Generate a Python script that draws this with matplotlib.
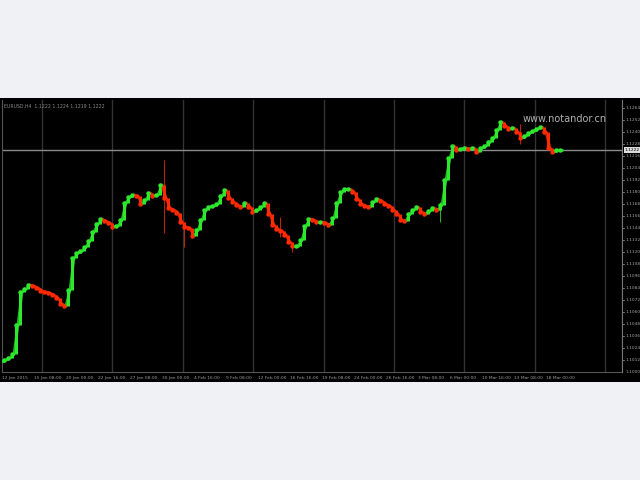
import matplotlib
matplotlib.use("Agg")
import matplotlib.pyplot as plt
import numpy as np

# closing prices, one per bar (H4 bars)
closes = [1.1012, 1.1014, 1.1018, 1.1047, 1.1080, 1.1083, 1.1087, 1.1086, 1.1084, 1.1081,
          1.1080, 1.1079, 1.1077, 1.1074, 1.1068, 1.1066, 1.1082, 1.1114, 1.1119, 1.1121,
          1.1125, 1.1131, 1.1140, 1.1148, 1.1153, 1.1151, 1.1149, 1.1145, 1.1146, 1.1152,
          1.1169, 1.1175, 1.1177, 1.1176, 1.1168, 1.1172, 1.1179, 1.1176, 1.1177, 1.1187,
          1.1174, 1.1164, 1.1162, 1.1159, 1.1150, 1.1145, 1.1144, 1.1136, 1.1142, 1.1152,
          1.1162, 1.1165, 1.1166, 1.1168, 1.1176, 1.1182, 1.1174, 1.1170, 1.1167, 1.1165,
          1.1169, 1.1165, 1.1160, 1.1162, 1.1165, 1.1169, 1.1158, 1.1147, 1.1143, 1.1141,
          1.1137, 1.1130, 1.1126, 1.1126, 1.1132, 1.1146, 1.1153, 1.1152, 1.1150, 1.1150,
          1.1149, 1.1147, 1.1154, 1.1169, 1.1180, 1.1183, 1.1183, 1.1180, 1.1173, 1.1168,
          1.1166, 1.1165, 1.1170, 1.1173, 1.1171, 1.1168, 1.1166, 1.1162, 1.1158, 1.1152,
          1.1151, 1.1158, 1.1162, 1.1165, 1.1160, 1.1158, 1.1161, 1.1164, 1.1162, 1.1167,
          1.1192, 1.1214, 1.1226, 1.1222, 1.1223, 1.1224, 1.1223, 1.1224, 1.1220, 1.1224,
          1.1226, 1.1230, 1.1234, 1.1242, 1.1250, 1.1246, 1.1243, 1.1244, 1.1240, 1.1234,
          1.1236, 1.1239, 1.1241, 1.1243, 1.1245, 1.1240, 1.1224, 1.1220, 1.1222, 1.1222]
first_open = 1.1010

# a few long shadows that stick out: bar index, low, high
wicks = [(40, 1.1139, 1.1212), (45, 1.1125, 1.1150), (69, 1.1135, 1.1155),
         (72, 1.1120, 1.1130), (109, 1.1150, 1.1170), (129, 1.1228, 1.1248)]

price_ticks = [1.1000 + 0.0012 * k for k in range(23)]
date_labels = ["12 Jan 2015", "15 Jan 08:00", "20 Jan 00:00", "22 Jan 16:00", "27 Jan 08:00",
               "30 Jan 00:00", "4 Feb 16:00", "9 Feb 08:00", "12 Feb 00:00", "16 Feb 16:00",
               "19 Feb 08:00", "24 Feb 00:00", "26 Feb 16:00", "3 Mar 08:00", "6 Mar 00:00",
               "10 Mar 16:00", "13 Mar 08:00", "18 Mar 00:00"]
title = "EURUSD,H4  1.1222 1.1224 1.1219 1.1222"
watermark = "www.notandor.cn"

opens = [first_open] + closes[:-1]
n = len(closes)
idx = np.arange(n)

fig = plt.figure(figsize=(6.4, 4.8), dpi=100, facecolor="#f0f1f4")

# black terminal panel
panel = fig.add_axes([0, 1 - 382 / 480, 1, 284 / 480])
panel.set_facecolor("black")
panel.set_xticks([])
panel.set_yticks([])
for s in panel.spines.values():
    s.set_visible(False)

ax = fig.add_axes([2 / 640, 1 - 372 / 480, 620 / 640, 272 / 480])
ax.set_facecolor("black")
ax.set_xlim(-0.5, 154.5)
ax.set_ylim(1.1000, 1.1272)
ax.set_xticks([])
ax.set_yticks([])
for s in ax.spines.values():
    s.set_color("#555555")
    s.set_linewidth(0.8)
ax.spines["top"].set_visible(False)

# vertical grid
for gx in np.arange(9.5, 155, 17.6):
    ax.axvline(gx, color="#333333", lw=1, zorder=0)

# current price line
ax.axhline(closes[-1], color="#8a8a8a", lw=1, zorder=1)

green = "#2ee82e"
red = "#ff2a00"

# candles
for i, lo, hi in wicks:
    col = green if closes[i] >= opens[i] else red
    ax.vlines(i, lo, hi, color=col, lw=0.7, alpha=0.8, zorder=2)
for i in idx:
    o, c = opens[i], closes[i]
    col = green if c >= o else red
    ax.vlines(i, min(o, c), max(o, c), color=col, lw=2.2, zorder=3)
    ax.plot([i - 0.5, i + 0.5], [o, c], color=col, lw=2.0, alpha=0.8, zorder=3,
            solid_capstyle="round")
    ax.plot(i, c, "o", ms=3.2, color=col, mec="none", zorder=4)

ax.text(0.004, 0.985, title, transform=ax.transAxes, fontsize=3.3, color="#8a8a8a",
        va="top", ha="left")
ax.text(0.84, 0.93, watermark, transform=ax.transAxes, fontsize=7, color="#b0b0b0",
        va="center", ha="left")

# date strip
for k, lab in enumerate(date_labels):
    ax.text(k * 8 - 0.5, 1.1000 - 0.0004, lab, fontsize=3.2, color="#9a9a9a",
            ha="left", va="top", clip_on=False)

# price scale on the right
pax = fig.add_axes([622 / 640, 1 - 372 / 480, 18 / 640, 272 / 480])
pax.set_facecolor("black")
pax.set_ylim(1.1000, 1.1272)
pax.set_xlim(0, 1)
pax.set_xticks([])
pax.set_yticks([])
for s in pax.spines.values():
    s.set_visible(False)
pax.spines["left"].set_visible(True)
pax.spines["left"].set_color("#777777")
for p in price_ticks:
    if p > 1.1270:
        continue
    pax.plot([0, 0.12], [p, p], color="#888888", lw=0.6)
    pax.text(0.2, p, f"{p:.4f}", fontsize=3.2, color="#a0a0a0", va="center", ha="left")
pax.text(0.15, closes[-1], f"{closes[-1]:.4f}", fontsize=3.2, color="black", va="center",
         ha="left", bbox=dict(boxstyle="square,pad=0.15", fc="#dddddd", ec="none"))

fig.savefig("out.png", dpi=100, facecolor=fig.get_facecolor())
